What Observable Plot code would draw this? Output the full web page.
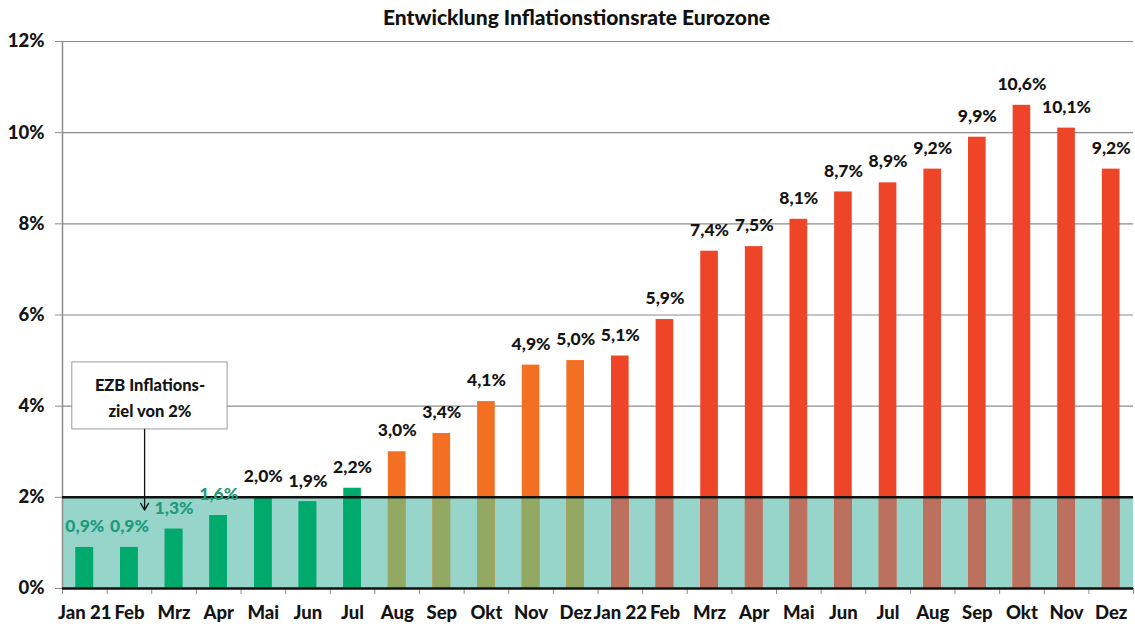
<!DOCTYPE html>
<html>
<head>
<meta charset="utf-8">
<script src="https://cdn.jsdelivr.net/npm/d3@7"></script>
<script src="https://cdn.jsdelivr.net/npm/@observablehq/plot@0.6"></script>
<style>
  html, body { margin: 0; padding: 0; background: #fff; }
  body { position: relative; width: 1135px; height: 629px; overflow: hidden; font-family: Lato, "Open Sans", sans-serif; }
  #title { position: absolute; top: 0; left: 0; width: 1135px; height: 34px; line-height: 34px; text-align: center; font-weight: 900; font-size: 21px; color: #111; padding-left: 18px; box-sizing: border-box; z-index: 2; }
</style>
</head>
<body>
<div id="title">Entwicklung Inflationstionsrate Eurozone</div>
<div id="chart"></div>
<script>
const months = ["Jan 21","Feb","Mrz","Apr","Mai","Jun","Jul","Aug","Sep","Okt","Nov","Dez",
                "Jan 22","Feb","Mrz","Apr","Mai","Jun","Jul","Aug","Sep","Okt","Nov","Dez"];
const rates = [0.9,0.9,1.3,1.6,2.0,1.9,2.2,3.0,3.4,4.1,4.9,5.0,
               5.1,5.9,7.4,7.5,8.1,8.7,8.9,9.2,9.9,10.6,10.1,9.2];
const phases = ["gruen","gruen","gruen","gruen","gruen","gruen","gruen",
                "orange","orange","orange","orange","orange",
                "rot","rot","rot","rot","rot","rot","rot","rot","rot","rot","rot","rot"];
const labelTones = ["ziel","ziel","ziel","ziel","normal","normal","normal","normal","normal","normal","normal","normal",
                    "normal","normal","normal","normal","normal","normal","normal","normal","normal","normal","normal","normal"];
const target = 2;
const yTicks = [0, 2, 4, 6, 8, 10, 12];
const annotationText = "EZB Inflations-\nziel von 2%";

const barColor = {gruen: "#00a96c", orange: "#f36f21", rot: "#ee4529"};
const bandColor = {gruen: "#00a96c", orange: "#93a863", rot: "#bc705e"};
const toneColor = {ziel: "#1d9b7c", normal: "#141414"};

const rows = months.map((m, i) => ({i, m, v: rates[i], phase: phases[i], tone: labelTones[i]}));
const fmt = v => v.toFixed(1).replace(".", ",") + "%";

const chart = Plot.plot({
  width: 1135,
  height: 629,
  marginTop: 41,
  marginBottom: 41,
  marginLeft: 62,
  marginRight: 2,
  style: {fontFamily: "Lato, 'Open Sans', sans-serif", color: "#141414", background: "#fff"},
  x: {type: "linear", domain: [0, 24], axis: null},
  y: {domain: [0, 12], axis: null},
  marks: [
    Plot.ruleY(yTicks.filter(t => t > 0), {stroke: "#8c8c8c", strokeWidth: 1.2}),
    Plot.rect([target], {x1: 0, x2: 24, y1: 0, y2: d => d, fill: "#97d4c9"}),
    Plot.rectY(rows, {x1: d => d.i, x2: d => d.i + 1, y1: 0, y2: "v", fill: d => barColor[d.phase], insetLeft: 13.5, insetRight: 13.5}),
    Plot.rectY(rows, {x1: d => d.i, x2: d => d.i + 1, y1: 0, y2: d => Math.min(d.v, target), fill: d => bandColor[d.phase], insetLeft: 13.5, insetRight: 13.5}),
    Plot.ruleX([0], {stroke: "#8c8c8c", strokeWidth: 1.5}),
    Plot.axisY(yTicks, {label: null, tickSize: 7, tickPadding: 11, tickFormat: d => d + "%", fontSize: 18.5, fontWeight: 900, stroke: "#8c8c8c"}),
    Plot.axisX(d3.range(25), {label: null, tickSize: 6, tickFormat: () => "", stroke: "#8c8c8c"}),
    Plot.axisX(d3.range(24).map(i => i + 0.5), {label: null, tickSize: 0, tickPadding: 17, tickFormat: t => months[Math.floor(t)], fontSize: 18.5, fontWeight: 900}),
    Plot.ruleY([0, target], {x1: 0, x2: 24, stroke: "#111", strokeWidth: 2.5}),
    Plot.text(rows, {x: d => d.i + 0.5, y: "v", text: d => fmt(d.v), dy: -21, fill: d => toneColor[d.tone], fontSize: 17.5, fontWeight: 900}),
    Plot.rect([annotationText], {x1: 0.22, x2: 3.7, y1: 3.49, y2: 4.96, fill: "#fff", stroke: "#9a9a9a", strokeWidth: 1}),
    Plot.arrow([annotationText], {x1: 1.84, x2: 1.84, y1: 3.49, y2: 1.72, stroke: "#111", strokeWidth: 1.3, headLength: 9}),
    Plot.text([annotationText], {x: 1.96, y: 4.23, text: d => d, lineHeight: 1.6, fontSize: 16.5, fontWeight: 900, fill: "#141414"})
  ]
});
document.getElementById("chart").appendChild(chart);
</script>
</body>
</html>
